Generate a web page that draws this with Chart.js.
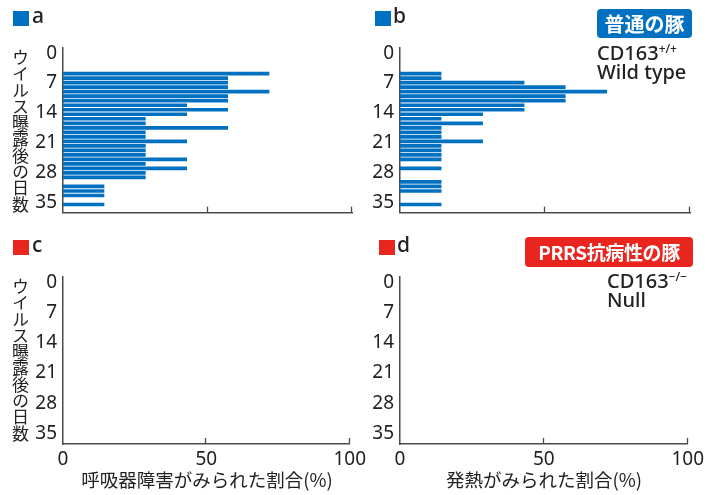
<!DOCTYPE html>
<html lang="ja">
<head>
<meta charset="utf-8">
<script src="https://cdn.jsdelivr.net/npm/chart.js@4.4.0/dist/chart.umd.min.js"></script>
<style>
  html, body { margin: 0; padding: 0; background: #fff; }
  body { width: 708px; height: 495px; position: relative; overflow: hidden;
         font-family: 'Noto Sans', 'Noto Sans CJK JP', sans-serif; color: #222; }
  canvas { position: absolute; }
  .sq { position: absolute; width: 16px; height: 15px; }
  .letter { position: absolute; font-size: 21px; font-weight: 500; line-height: 1; white-space: nowrap; }
  .vtitle { position: absolute; writing-mode: vertical-rl; text-orientation: upright;
            font-family: 'Noto Sans CJK JP', sans-serif;
            font-size: 17px; line-height: 17px; letter-spacing: -0.7px; white-space: nowrap; }
  .badge { position: absolute; color: #fff; font-weight: bold; text-align: center; border-radius: 4px;
           font-family: 'Noto Sans CJK JP', sans-serif; white-space: nowrap; }
  .geno { position: absolute; font-size: 20px; line-height: 19px; font-weight: 500; white-space: nowrap; }
  .geno sup { font-size: 12px; vertical-align: 7px; line-height: 0; }
  .xtitle { position: absolute; font-size: 18.5px; line-height: 1; transform: translateX(-50%);
            white-space: nowrap; font-family: 'Noto Sans CJK JP', sans-serif; }
</style>
</head>
<body>
<canvas id="ca" width="370" height="230" style="left:0;top:0"></canvas>
<canvas id="cb" width="368" height="230" style="left:340px;top:0"></canvas>
<canvas id="cc" width="370" height="266" style="left:0;top:229px"></canvas>
<canvas id="cd" width="368" height="266" style="left:340px;top:229px"></canvas>

<div class="sq" style="left:13px;top:11px;background:#0070c0"></div><div class="letter" style="left:32px;top:5px">a</div>
<div class="sq" style="left:375px;top:11px;background:#0070c0"></div><div class="letter" style="left:393px;top:5px">b</div>
<div class="sq" style="left:13px;top:240px;background:#e8251f"></div><div class="letter" style="left:32px;top:234px">c</div>
<div class="sq" style="left:379px;top:240px;background:#e8251f"></div><div class="letter" style="left:397px;top:234px">d</div>

<div class="vtitle" style="left:12px;top:49px">ウイルス曝露後の日数</div>
<div class="vtitle" style="left:12px;top:278px">ウイルス曝露後の日数</div>

<div class="badge" style="left:597px;top:9px;width:95px;height:29px;line-height:29px;font-size:20px;background:#0070c0">普通の豚</div>
<div class="geno" style="left:597px;top:43px">CD163<sup>+/+</sup><br>Wild type</div>

<div class="badge" style="left:525px;top:237px;width:168px;height:30px;line-height:30px;font-size:19px;letter-spacing:-0.4px;background:#e8251f">PRRS抗病性の豚</div>
<div class="geno" style="left:607px;top:271px">CD163<sup>−/−</sup><br>Null</div>

<div class="xtitle" style="left:207px;top:470px">呼吸器障害がみられた割合(%)</div>
<div class="xtitle" style="left:544px;top:470px">発熱がみられた割合(%)</div>

<script>
// ---- data ----
const days = [6,7,8,9,10,11,12,13,14,15,16,17,18,19,20,21,22,23,24,25,26,27,28,29,30,31,32,33,34,35];
const dayTicks = [0, 7, 14, 21, 28, 35];
const pctTicks = [0, 50, 100];
// a: respiratory signs, wild type (% of pigs)
const respiratoryWT = [71.4,57.1,57.1,57.1,71.4,57.1,57.1,42.9,57.1,42.9,28.6,28.6,57.1,28.6,28.6,42.9,28.6,28.6,28.6,42.9,28.6,42.9,28.6,28.6,null,14.3,14.3,14.3,null,14.3];
// b: fever, wild type (% of pigs)
const feverWT = [14.3,14.3,42.9,57.1,71.4,57.1,57.1,42.9,42.9,28.6,14.3,28.6,14.3,14.3,14.3,28.6,14.3,14.3,14.3,14.3,null,14.3,null,null,14.3,14.3,14.3,null,null,14.3];
// c, d: CD163 null pigs showed no signs
const respiratoryNull = [0,0,0,0,0,0,0,0,0,0,0,0,0,0,0,0,0,0,0,0,0,0,0,0,0,0,0,0,0,0];
const feverNull = [0,0,0,0,0,0,0,0,0,0,0,0,0,0,0,0,0,0,0,0,0,0,0,0,0,0,0,0,0,0];

Chart.defaults.font.family = "'Noto Sans', 'Noto Sans CJK JP', sans-serif";
Chart.defaults.color = '#222';

const AXIS = '#4a4a4a';
const BLUE = '#0070c0';

const innerTicks = {
  id: 'innerTicks',
  afterDraw(chart) {
    const xs = chart.scales.x, ctx = chart.ctx, b = chart.chartArea.bottom;
    ctx.save();
    ctx.strokeStyle = AXIS; ctx.lineWidth = 1.3;
    pctTicks.filter(v => v > 0).forEach(v => {
      const px = Math.round(xs.getPixelForValue(v)) - 0.5;
      ctx.beginPath(); ctx.moveTo(px, b); ctx.lineTo(px, b - 6); ctx.stroke();
    });
    ctx.restore();
  }
};

function makeChart(id, values, yAxisWidth, xAxisHeight, showXLabels) {
  const pts = days.map((d, i) => ({ x: values[i], y: d })).filter(p => p.x !== null);
  return new Chart(document.getElementById(id), {
    type: 'bar',
    data: { datasets: [{ data: pts, backgroundColor: BLUE, borderWidth: 0, inflateAmount: 0,
                         barThickness: 3.7, xAxisID: 'x', yAxisID: 'y' }] },
    options: {
      indexAxis: 'y', responsive: false, animation: false,
      layout: { padding: { top: 48, right: 18, left: 0, bottom: 0 } },
      plugins: { legend: { display: false }, tooltip: { enabled: false } },
      scales: {
        x: {
          type: 'linear', min: 0, max: 100, position: 'bottom', offset: false,
          afterBuildTicks: s => { s.ticks = pctTicks.map(v => ({ value: v })); },
          ticks: { display: showXLabels, padding: 4, font: { size: 19 }, maxRotation: 0 },
          grid: { display: false, drawTicks: false },
          border: { display: true, color: AXIS, width: 1.5 },
          afterFit: s => { s.height = xAxisHeight; }
        },
        y: { type: 'linear', display: false, reverse: true, offset: false, min: 0.32, max: 36.79 },
        yt: {
          type: 'linear', position: 'left', reverse: true, offset: false, min: -1.2, max: 37.43,
          afterBuildTicks: s => { s.ticks = dayTicks.map(v => ({ value: v })); },
          ticks: { padding: 6, font: { size: 19 } },
          grid: { display: false, drawTicks: false, offset: false },
          border: { display: true, color: AXIS, width: 1.5 },
          afterFit: s => { s.width = yAxisWidth; }
        }
      }
    },
    plugins: [innerTicks]
  });
}

makeChart('ca', respiratoryWT, 63, 15, false);
makeChart('cb', feverWT, 60, 15, false);
makeChart('cc', respiratoryNull, 63, 51, true);
makeChart('cd', feverNull, 60, 51, true);
</script>
</body>
</html>
